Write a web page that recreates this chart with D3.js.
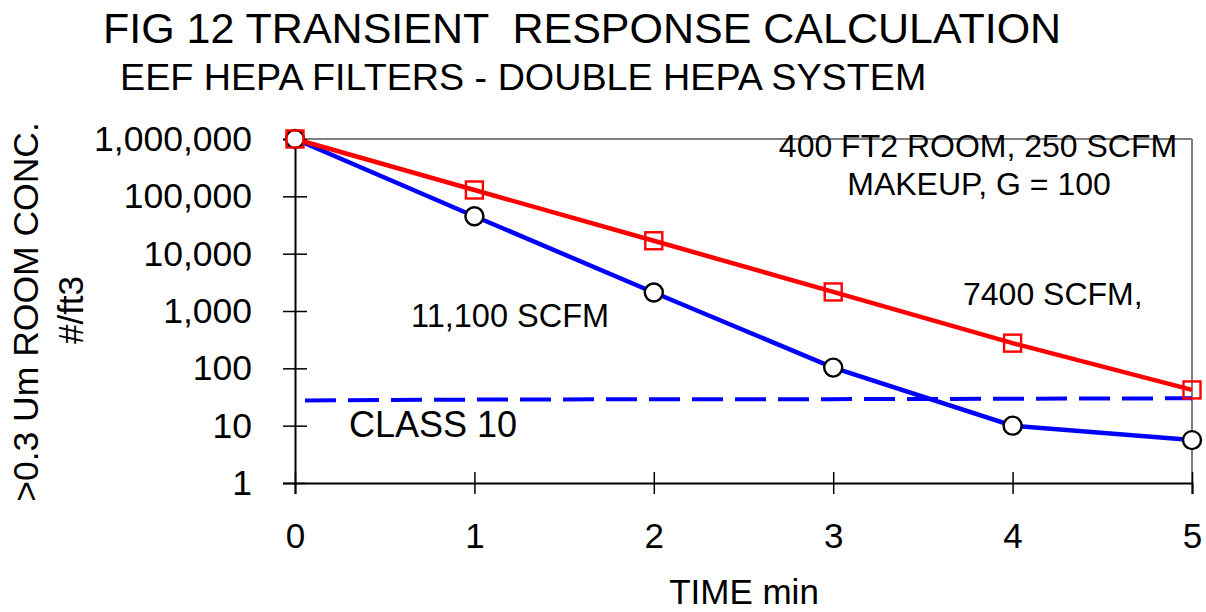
<!DOCTYPE html>
<html>
<head>
<meta charset="utf-8">
<script src="https://cdn.jsdelivr.net/npm/d3@7"></script>
<style>
  html, body { margin: 0; padding: 0; background: #fff; }
  svg { display: block; }
  text { font-family: "Liberation Sans", Arial, Helvetica, sans-serif; fill: #000; }
</style>
</head>
<body>
<svg id="chart" width="1206" height="612"></svg>
<script>
// Time after start (minutes)
const times = [0, 1, 2, 3, 4, 5];
// Room concentration, particles >0.3 um per ft3
const scfm11100 = [1000000, 45000, 2100, 103, 10, 5.6];
const scfm7400 = [1000000, 129000, 16800, 2150, 275, 42];
// Class 10 limit line
const class10 = [27.5, 28.5, 29, 29, 29.5, 30];
// Axis ticks
const yTicks = [1, 10, 100, 1000, 10000, 100000, 1000000];
const xTicks = [0, 1, 2, 3, 4, 5];

const svg = d3.select("#chart");

const plot = { left: 295, right: 1192, top: 139, bottom: 483 };

const x = d3.scaleLinear().domain([0, 5]).range([plot.left, plot.right]);
const y = d3.scaleLog().domain([1, 1000000]).range([plot.bottom, plot.top]);

// Titles
svg.append("text")
  .attr("x", 103).attr("y", 43)
  .style("font-size", "43px")
  .style("white-space", "pre")
  .text("FIG 12 TRANSIENT  RESPONSE CALCULATION");

svg.append("text")
  .attr("x", 120).attr("y", 90)
  .style("font-size", "37.7px")
  .text("EEF HEPA FILTERS - DOUBLE HEPA SYSTEM");

// Frame: grey top and right edges
svg.append("line")
  .attr("x1", plot.left).attr("x2", plot.right)
  .attr("y1", plot.top).attr("y2", plot.top)
  .attr("stroke", "#808080").attr("stroke-width", 2);
svg.append("line")
  .attr("x1", plot.right).attr("x2", plot.right)
  .attr("y1", plot.top).attr("y2", plot.bottom)
  .attr("stroke", "#808080").attr("stroke-width", 2);

// Y axis
const yAxis = svg.append("g")
  .attr("transform", `translate(${plot.left},0)`)
  .call(d3.axisLeft(y).tickValues(yTicks).tickFormat(d3.format(",")).tickSize(12).tickPadding(31));
yAxis.selectAll(".tick line").attr("x1", 12);
// X axis
const xAxis = svg.append("g")
  .attr("transform", `translate(0,${plot.bottom})`)
  .call(d3.axisBottom(x).tickValues(xTicks).tickFormat(d3.format("d")).tickSize(11).tickPadding(29));
xAxis.selectAll(".tick line").attr("y1", -11);

[yAxis, xAxis].forEach(g => {
  g.select(".domain").attr("stroke", "#000").attr("stroke-width", 2);
  g.selectAll(".tick line").attr("stroke", "#000").attr("stroke-width", 1.5);
  g.selectAll(".tick text")
    .style("font-family", "'Liberation Sans', Arial, sans-serif")
    .style("font-size", "35.5px")
    .attr("fill", "#000");
});
xAxis.selectAll(".tick text").style("font-size", "35px");

// Axis titles
svg.append("text")
  .attr("transform", "translate(38,312) rotate(-90)")
  .attr("text-anchor", "middle")
  .style("font-size", "35.5px")
  .text(">0.3 Um ROOM CONC.");
svg.append("text")
  .attr("transform", "translate(83,310) rotate(-90)")
  .attr("text-anchor", "middle")
  .style("font-size", "35px")
  .text("#/ft3");
svg.append("text")
  .attr("x", 744).attr("y", 604)
  .attr("text-anchor", "middle")
  .style("font-size", "35px")
  .text("TIME min");

const line = d3.line().x((d, i) => x(times[i])).y(d => y(d));

// Class 10 dashed limit
svg.append("path")
  .datum(class10)
  .attr("d", line)
  .attr("fill", "none")
  .attr("stroke", "#0000ff")
  .attr("stroke-width", 4)
  .attr("stroke-dasharray", "31 12")
  .attr("stroke-dashoffset", 33);

// Series lines
svg.append("path")
  .datum(scfm11100)
  .attr("d", line)
  .attr("fill", "none")
  .attr("stroke", "#0000ff")
  .attr("stroke-width", 4.5);
svg.append("path")
  .datum(scfm7400)
  .attr("d", line)
  .attr("fill", "none")
  .attr("stroke", "#ff0000")
  .attr("stroke-width", 4.5);

// Markers
svg.append("g").selectAll("circle")
  .data(scfm11100)
  .join("circle")
  .attr("cx", (d, i) => x(times[i]))
  .attr("cy", d => y(d))
  .attr("r", 9)
  .attr("fill", "#fff")
  .attr("stroke", "#000")
  .attr("stroke-width", 2.4);

const sq = 17;
svg.append("g").selectAll("rect")
  .data(scfm7400)
  .join("rect")
  .attr("x", (d, i) => x(times[i]) - sq / 2)
  .attr("y", d => y(d) - sq / 2)
  .attr("width", sq)
  .attr("height", sq)
  .attr("fill", "none")
  .attr("stroke", "#ff0000")
  .attr("stroke-width", 2.4);

// Annotations
svg.append("text")
  .attr("x", 978).attr("y", 157)
  .attr("text-anchor", "middle")
  .style("font-size", "32px")
  .text("400 FT2 ROOM, 250 SCFM");
svg.append("text")
  .attr("x", 979).attr("y", 195)
  .attr("text-anchor", "middle")
  .style("font-size", "32px")
  .text("MAKEUP, G = 100");
svg.append("text")
  .attr("x", 963).attr("y", 305)
  .style("font-size", "32px")
  .text("7400 SCFM,");
svg.append("text")
  .attr("x", 411).attr("y", 327)
  .style("font-size", "32.5px")
  .text("11,100 SCFM");
svg.append("text")
  .attr("x", 349).attr("y", 437)
  .style("font-size", "36px")
  .text("CLASS 10");
</script>
</body>
</html>
